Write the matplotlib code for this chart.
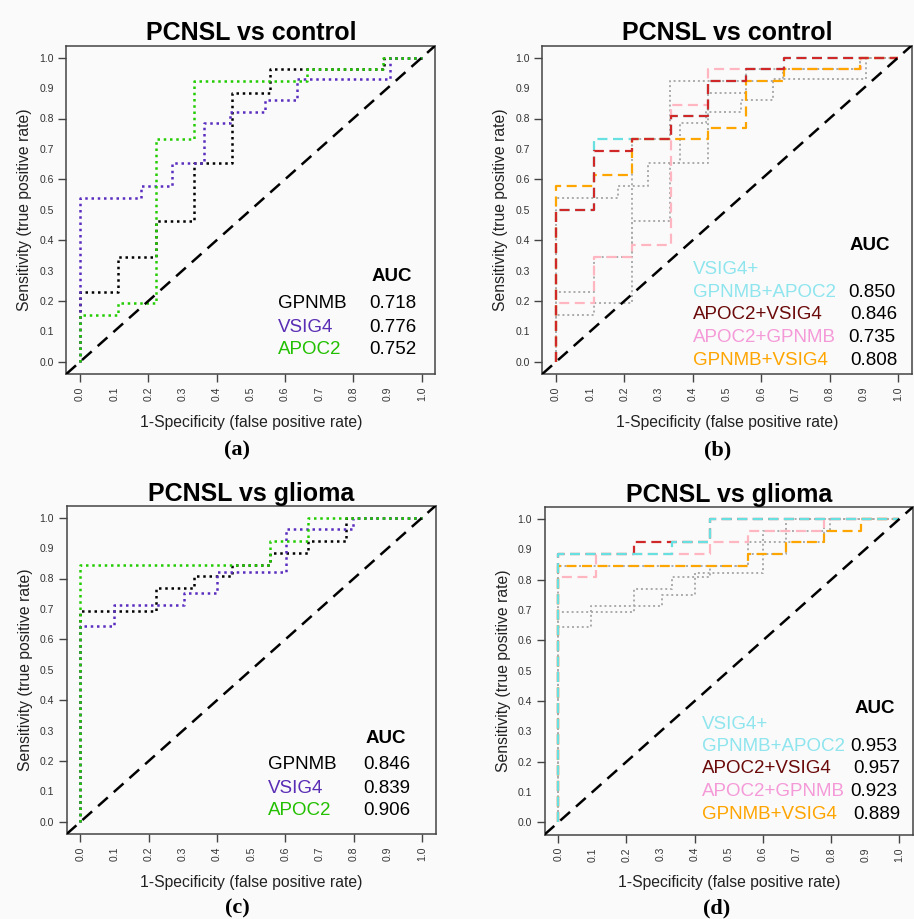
import numpy as np
import matplotlib
matplotlib.use("Agg")
import matplotlib.pyplot as plt

plt.rcParams['font.family'] = ['Liberation Sans', 'DejaVu Sans']

# ---------------- data ----------------
# ROC corners as steps-post points: (fpr, tpr)
# PCNSL vs control, single markers
ctl_gpnmb_fpr = [0, 0, 0.111, 0.222, 0.333, 0.444, 0.556, 0.889, 1.0]
ctl_gpnmb_tpr = [0, 0.231, 0.346, 0.462, 0.654, 0.885, 0.962, 1.0, 1.0]
ctl_vsig4_fpr = [0, 0, 0.180, 0.270, 0.363, 0.440, 0.540, 0.634, 0.907, 1.0]
ctl_vsig4_tpr = [0, 0.538, 0.577, 0.654, 0.786, 0.820, 0.860, 0.929, 1.0, 1.0]
ctl_apoc2_fpr = [0, 0, 0.111, 0.222, 0.333, 0.663, 0.888, 1.0]
ctl_apoc2_tpr = [0, 0.154, 0.192, 0.731, 0.923, 0.962, 1.0, 1.0]

# PCNSL vs control, combinations
ctl_vga_fpr = [0, 0, 0.111, 0.335, 0.445, 0.555, 0.666, 1.0]
ctl_vga_tpr = [0, 0.500, 0.731, 0.808, 0.923, 0.962, 1.0, 1.0]
ctl_av_fpr = [0, 0, 0.111, 0.222, 0.335, 0.445, 0.555, 0.666, 1.0]
ctl_av_tpr = [0, 0.500, 0.692, 0.731, 0.808, 0.923, 0.962, 1.0, 1.0]
ctl_ag_fpr = [0, 0, 0.111, 0.222, 0.335, 0.445, 0.893, 1.0]
ctl_ag_tpr = [0, 0.192, 0.346, 0.385, 0.846, 0.962, 1.0, 1.0]
ctl_gv_fpr = [0, 0, 0.111, 0.222, 0.445, 0.555, 0.666, 0.889, 1.0]
ctl_gv_tpr = [0, 0.577, 0.615, 0.731, 0.769, 0.923, 0.962, 1.0, 1.0]

# PCNSL vs glioma, single markers
gli_gpnmb_fpr = [0, 0, 0.222, 0.333, 0.444, 0.556, 0.667, 0.778, 1.0]
gli_gpnmb_tpr = [0, 0.692, 0.769, 0.808, 0.846, 0.885, 0.923, 1.0, 1.0]
gli_vsig4_fpr = [0, 0, 0.097, 0.303, 0.400, 0.601, 0.798, 1.0]
gli_vsig4_tpr = [0, 0.644, 0.713, 0.751, 0.822, 0.962, 1.0, 1.0]
gli_apoc2_fpr = [0, 0, 0.556, 0.667, 1.0]
gli_apoc2_tpr = [0, 0.846, 0.923, 1.0, 1.0]

# PCNSL vs glioma, combinations
gli_vga_fpr = [0, 0, 0.333, 0.444, 1.0]
gli_vga_tpr = [0, 0.885, 0.923, 1.0, 1.0]
gli_av_fpr = [0, 0, 0.222, 0.444, 1.0]
gli_av_tpr = [0, 0.885, 0.923, 1.0, 1.0]
gli_ag_fpr = [0, 0, 0.111, 0.444, 0.556, 0.778, 1.0]
gli_ag_tpr = [0, 0.808, 0.885, 0.923, 0.962, 1.0, 1.0]
gli_gv_fpr = [0, 0, 0.556, 0.667, 0.778, 0.889, 1.0]
gli_gv_tpr = [0, 0.846, 0.885, 0.923, 0.962, 1.0, 1.0]

single_names = ["GPNMB", "VSIG4", "APOC2"]
ctl_single_auc = ["0.718", "0.776", "0.752"]
gli_single_auc = ["0.846", "0.839", "0.906"]
combo_names = ["GPNMB+APOC2", "APOC2+VSIG4", "APOC2+GPNMB", "GPNMB+VSIG4"]
ctl_combo_auc = ["0.850", "0.846", "0.735", "0.808"]
gli_combo_auc = ["0.953", "0.957", "0.923", "0.889"]

ticks = np.round(np.arange(0, 1.01, 0.1), 1)

# ---------------- styling ----------------
BG = "#FAFAFA"
single_line_col = ["black", "#5A2DC0", "#22CC00"]
single_text_col = ["black", "#5A2DB5", "#22C000"]
combo_line_col = ["#66E0E0", "#D02828", "#FFB6C1", "#FFA500"]
combo_text_col = ["#8EE5EE", "#6B0A0A", "#F59AD8", "#FFA500"]
DOT = (0, (1, 1.5))
DASH = (0, (4.5, 2.5))

fig = plt.figure(figsize=(9.14, 9.19), dpi=100, facecolor=BG)

W, H = 914, 919


def make_ax(left, top, right, bottom):
    return fig.add_axes([left / W, 1 - bottom / H, (right - left) / W, (bottom - top) / H])


axes = [make_ax(66.3, 45.5, 435.4, 374.0),
        make_ax(542.3, 45.5, 911.7, 374.0),
        make_ax(66.7, 505.5, 435.8, 834.0),
        make_ax(544.6, 506.9, 913.0, 834.5)]


def base(ax, title):
    ax.set_facecolor(BG)
    ax.set_xlim(-0.04, 1.04)
    ax.set_ylim(-0.04, 1.04)
    ax.set_xticks(ticks)
    ax.set_yticks(ticks)
    ax.set_xticklabels([f"{t:.1f}" for t in ticks], rotation=90, fontsize=7.5, color="#333333")
    ax.set_yticklabels([f"{t:.1f}" for t in ticks], fontsize=7.5, color="#333333")
    ax.tick_params(length=6, width=1, color="#444444", pad=3)
    for i, t in enumerate(ax.xaxis.get_major_ticks()):
        if i % 2:
            t.tick1line.set_visible(False)
    for i, t in enumerate(ax.yaxis.get_major_ticks()):
        if i % 2:
            t.tick1line.set_visible(False)
    for s in ax.spines.values():
        s.set_color("#444444")
        s.set_linewidth(1.1)
    ax.set_xlabel("1-Specificity (false positive rate)", fontsize=11.3, color="#222222", labelpad=10)
    ax.set_ylabel("Sensitivity (true positive rate)", fontsize=11.3, color="#222222", labelpad=5)
    ax.set_title(title, fontsize=18, fontweight="bold", pad=3)
    ax.plot([-0.04, 1.04], [-0.04, 1.04], color="black", lw=1.8, ls=(0, (5.2, 3.2)), zorder=10)


def singles(ax, curves, gray=False):
    zs = [3, 4, 5] if not gray else [2, 2, 2]
    order = [0, 2, 1]
    for i in order:
        fx, ty = curves[i]
        col = "#AAAAAA" if gray else single_line_col[i]
        ax.plot(fx, ty, drawstyle="steps-post", color=col, lw=1.8 if not gray else 1.4,
                ls=DOT, zorder=zs[i])


ctl_single = [(ctl_gpnmb_fpr, ctl_gpnmb_tpr), (ctl_vsig4_fpr, ctl_vsig4_tpr),
              (ctl_apoc2_fpr, ctl_apoc2_tpr)]
gli_single = [(gli_gpnmb_fpr, gli_gpnmb_tpr), (gli_vsig4_fpr, gli_vsig4_tpr),
              (gli_apoc2_fpr, gli_apoc2_tpr)]
ctl_combo = [(ctl_vga_fpr, ctl_vga_tpr), (ctl_av_fpr, ctl_av_tpr),
             (ctl_ag_fpr, ctl_ag_tpr), (ctl_gv_fpr, ctl_gv_tpr)]
gli_combo = [(gli_vga_fpr, gli_vga_tpr), (gli_av_fpr, gli_av_tpr),
             (gli_ag_fpr, gli_ag_tpr), (gli_gv_fpr, gli_gv_tpr)]

# (a) and (c): single markers
for ax, title, curves, aucs, pos in [
        (axes[0], "PCNSL vs control", ctl_single, ctl_single_auc,
         (0.913, 0.279, 0.579, 0.846, [0.193, 0.114, 0.042])),
        (axes[2], "PCNSL vs glioma", gli_single, gli_single_auc,
         (0.895, 0.274, 0.550, 0.829, [0.187, 0.110, 0.038]))]:
    base(ax, title)
    singles(ax, curves)
    ax_x, ax_y, nx, vx, ys = pos
    ax.text(ax_x, ax_y, "AUC", fontsize=13.5, fontweight="bold", ha="center", va="center")
    for name, a, c, yy in zip(single_names, aucs, single_text_col, ys):
        ax.text(nx, yy, name, color=c, fontsize=13.5, va="center")
        ax.text(vx, yy, a, color="black", fontsize=13.5, va="center")

# (b) and (d): combinations
for ax, title, grays, curves, aucs, pos, zord in [
        (axes[1], "PCNSL vs control", ctl_single, ctl_combo, ctl_combo_auc,
         (0.917, 0.382, 0.401, 0.305, [0.228, 0.154, 0.080, 0.005], [0.854, 0.861, 0.854, 0.861]),
         [4, 7, 5, 6]),
        (axes[3], "PCNSL vs glioma", gli_single, gli_combo, gli_combo_auc,
         (0.928, 0.376, 0.422, 0.324, [0.249, 0.176, 0.101, 0.027], [0.857, 0.864, 0.857, 0.864]),
         [7, 4, 5, 6])]:
    base(ax, title)
    singles(ax, grays, gray=True)
    for (fx, ty), c, z in zip(curves, combo_line_col, zord):
        ax.plot(fx, ty, drawstyle="steps-post", color=c, lw=1.6, ls=DASH, zorder=z)
    ax_x, ax_y, nx, y0, ys, vxs = pos
    ax.text(ax_x, ax_y, "AUC", fontsize=13.5, fontweight="bold", ha="center", va="center")
    ax.text(nx, y0, "VSIG4+", color=combo_text_col[0], fontsize=13.5, va="center")
    for name, a, c, yy, vx in zip(combo_names, aucs, combo_text_col, ys, vxs):
        ax.text(nx, yy, name, color=c, fontsize=13.5, va="center")
        ax.text(vx, yy, a, color="black", fontsize=13.5, va="center")

for lab, x, y in [("(a)", 237, 450), ("(b)", 718, 450), ("(c)", 237, 908), ("(d)", 717, 908)]:
    fig.text(x / W, 1 - y / H, lab, fontsize=16, fontweight="bold", family="Liberation Serif",
             ha="center", va="center")

fig.savefig("out.png", dpi=100, facecolor=BG)
